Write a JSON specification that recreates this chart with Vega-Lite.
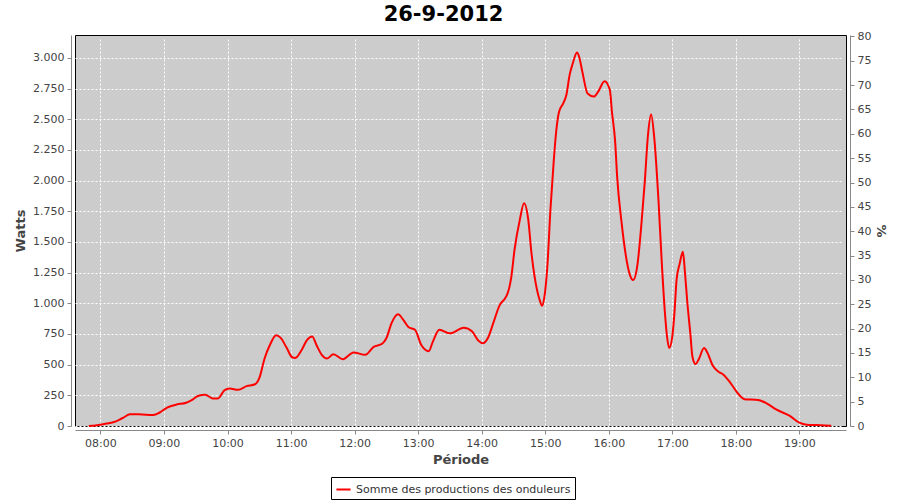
{
  "$schema": "https://vega.github.io/schema/vega-lite/v6.json",
  "autosize": "none",
  "width": 771,
  "height": 391,
  "padding": {"left": 75, "top": 35, "right": 54, "bottom": 74},
  "background": "#ffffff",
  "title": {
    "text": "26-9-2012",
    "font": "DejaVu Sans",
    "fontSize": 21,
    "fontWeight": "bold",
    "color": "#000000",
    "anchor": "middle",
    "dx": -17,
    "offset": 5
  },
  "config": {
    "view": {"fill": "#cccccc", "stroke": "#000000", "strokeWidth": 1},
    "axis": {
      "labelFont": "DejaVu Sans",
      "labelFontSize": 11,
      "labelColor": "#444444",
      "titleFont": "DejaVu Sans",
      "titleFontSize": 13,
      "titleFontWeight": "bold",
      "titleColor": "#444444",
      "domainColor": "#888888",
      "tickColor": "#888888",
      "tickSize": 4,
      "offset": 4,
      "gridColor": "#ffffff",
      "gridDash": [2, 2],
      "gridOpacity": 1,
      "gridWidth": 1
    }
  },
  "layer": [
    {
      "data": {
        "values": [
          {"t": "2012-09-26T07:49", "w": 0},
          {"t": "2012-09-26T08:00", "w": 11},
          {"t": "2012-09-26T08:06", "w": 20},
          {"t": "2012-09-26T08:12", "w": 30},
          {"t": "2012-09-26T08:21", "w": 65},
          {"t": "2012-09-26T08:28", "w": 95},
          {"t": "2012-09-26T08:36", "w": 95},
          {"t": "2012-09-26T08:50", "w": 90},
          {"t": "2012-09-26T08:56", "w": 110},
          {"t": "2012-09-26T09:03", "w": 150},
          {"t": "2012-09-26T09:12", "w": 175},
          {"t": "2012-09-26T09:21", "w": 190},
          {"t": "2012-09-26T09:27", "w": 215},
          {"t": "2012-09-26T09:32", "w": 245},
          {"t": "2012-09-26T09:39", "w": 255},
          {"t": "2012-09-26T09:46", "w": 225},
          {"t": "2012-09-26T09:51", "w": 225},
          {"t": "2012-09-26T09:57", "w": 290},
          {"t": "2012-09-26T10:02", "w": 305},
          {"t": "2012-09-26T10:10", "w": 295},
          {"t": "2012-09-26T10:18", "w": 325},
          {"t": "2012-09-26T10:26", "w": 340},
          {"t": "2012-09-26T10:30", "w": 390},
          {"t": "2012-09-26T10:35", "w": 550},
          {"t": "2012-09-26T10:40", "w": 660},
          {"t": "2012-09-26T10:46", "w": 740},
          {"t": "2012-09-26T10:50", "w": 720},
          {"t": "2012-09-26T10:56", "w": 635},
          {"t": "2012-09-26T11:01", "w": 560},
          {"t": "2012-09-26T11:04", "w": 555},
          {"t": "2012-09-26T11:10", "w": 620},
          {"t": "2012-09-26T11:15", "w": 700},
          {"t": "2012-09-26T11:20", "w": 730},
          {"t": "2012-09-26T11:24", "w": 660},
          {"t": "2012-09-26T11:29", "w": 580},
          {"t": "2012-09-26T11:34", "w": 550},
          {"t": "2012-09-26T11:40", "w": 585},
          {"t": "2012-09-26T11:49", "w": 545},
          {"t": "2012-09-26T11:59", "w": 600},
          {"t": "2012-09-26T12:10", "w": 580},
          {"t": "2012-09-26T12:18", "w": 645},
          {"t": "2012-09-26T12:26", "w": 670},
          {"t": "2012-09-26T12:30", "w": 715},
          {"t": "2012-09-26T12:35", "w": 840},
          {"t": "2012-09-26T12:41", "w": 910},
          {"t": "2012-09-26T12:46", "w": 865},
          {"t": "2012-09-26T12:51", "w": 805},
          {"t": "2012-09-26T12:57", "w": 785},
          {"t": "2012-09-26T13:03", "w": 660},
          {"t": "2012-09-26T13:10", "w": 610},
          {"t": "2012-09-26T13:14", "w": 690},
          {"t": "2012-09-26T13:20", "w": 785},
          {"t": "2012-09-26T13:30", "w": 755},
          {"t": "2012-09-26T13:43", "w": 800},
          {"t": "2012-09-26T13:51", "w": 770},
          {"t": "2012-09-26T13:57", "w": 695},
          {"t": "2012-09-26T14:01", "w": 675},
          {"t": "2012-09-26T14:06", "w": 720},
          {"t": "2012-09-26T14:11", "w": 840},
          {"t": "2012-09-26T14:17", "w": 985},
          {"t": "2012-09-26T14:22", "w": 1040},
          {"t": "2012-09-26T14:24", "w": 1070},
          {"t": "2012-09-26T14:28", "w": 1215},
          {"t": "2012-09-26T14:31", "w": 1435},
          {"t": "2012-09-26T14:36", "w": 1680},
          {"t": "2012-09-26T14:40", "w": 1815},
          {"t": "2012-09-26T14:44", "w": 1680},
          {"t": "2012-09-26T14:47", "w": 1410},
          {"t": "2012-09-26T14:50", "w": 1215},
          {"t": "2012-09-26T14:55", "w": 1020},
          {"t": "2012-09-26T14:57", "w": 980},
          {"t": "2012-09-26T14:59", "w": 1040},
          {"t": "2012-09-26T15:02", "w": 1300},
          {"t": "2012-09-26T15:05", "w": 1775},
          {"t": "2012-09-26T15:08", "w": 2155},
          {"t": "2012-09-26T15:10", "w": 2370},
          {"t": "2012-09-26T15:13", "w": 2560},
          {"t": "2012-09-26T15:17", "w": 2630},
          {"t": "2012-09-26T15:20", "w": 2700},
          {"t": "2012-09-26T15:23", "w": 2860},
          {"t": "2012-09-26T15:26", "w": 2955},
          {"t": "2012-09-26T15:30", "w": 3045},
          {"t": "2012-09-26T15:32", "w": 3010},
          {"t": "2012-09-26T15:35", "w": 2890},
          {"t": "2012-09-26T15:40", "w": 2710},
          {"t": "2012-09-26T15:46", "w": 2685},
          {"t": "2012-09-26T15:50", "w": 2725},
          {"t": "2012-09-26T15:56", "w": 2810},
          {"t": "2012-09-26T16:01", "w": 2740},
          {"t": "2012-09-26T16:03", "w": 2560},
          {"t": "2012-09-26T16:06", "w": 2320},
          {"t": "2012-09-26T16:08", "w": 2020},
          {"t": "2012-09-26T16:12", "w": 1665},
          {"t": "2012-09-26T16:16", "w": 1395},
          {"t": "2012-09-26T16:20", "w": 1230},
          {"t": "2012-09-26T16:23", "w": 1190},
          {"t": "2012-09-26T16:27", "w": 1310},
          {"t": "2012-09-26T16:31", "w": 1665},
          {"t": "2012-09-26T16:34", "w": 1990},
          {"t": "2012-09-26T16:37", "w": 2370},
          {"t": "2012-09-26T16:40", "w": 2540},
          {"t": "2012-09-26T16:43", "w": 2345},
          {"t": "2012-09-26T16:47", "w": 1830},
          {"t": "2012-09-26T16:50", "w": 1340},
          {"t": "2012-09-26T16:53", "w": 925},
          {"t": "2012-09-26T16:55", "w": 730},
          {"t": "2012-09-26T16:57", "w": 635},
          {"t": "2012-09-26T17:00", "w": 730},
          {"t": "2012-09-26T17:02", "w": 920},
          {"t": "2012-09-26T17:04", "w": 1190},
          {"t": "2012-09-26T17:07", "w": 1325},
          {"t": "2012-09-26T17:10", "w": 1420},
          {"t": "2012-09-26T17:12", "w": 1245},
          {"t": "2012-09-26T17:14", "w": 1025},
          {"t": "2012-09-26T17:17", "w": 755},
          {"t": "2012-09-26T17:19", "w": 565},
          {"t": "2012-09-26T17:22", "w": 505},
          {"t": "2012-09-26T17:25", "w": 545},
          {"t": "2012-09-26T17:30", "w": 635},
          {"t": "2012-09-26T17:33", "w": 600},
          {"t": "2012-09-26T17:38", "w": 495},
          {"t": "2012-09-26T17:44", "w": 440},
          {"t": "2012-09-26T17:48", "w": 420},
          {"t": "2012-09-26T17:55", "w": 350},
          {"t": "2012-09-26T18:02", "w": 265},
          {"t": "2012-09-26T18:08", "w": 218},
          {"t": "2012-09-26T18:21", "w": 212},
          {"t": "2012-09-26T18:29", "w": 185},
          {"t": "2012-09-26T18:38", "w": 135},
          {"t": "2012-09-26T18:51", "w": 82},
          {"t": "2012-09-26T19:00", "w": 27},
          {"t": "2012-09-26T19:07", "w": 11},
          {"t": "2012-09-26T19:16", "w": 8},
          {"t": "2012-09-26T19:30", "w": 3}
        ]
      },
      "mark": {"type": "line", "interpolate": "monotone", "strokeWidth": 2, "color": "#ff0000"},
      "encoding": {
        "x": {
          "field": "t",
          "type": "temporal",
          "title": "Période",
          "scale": {
            "domain": ["2012-09-26T07:36", "2012-09-26T19:44"],
            "nice": false
          },
          "axis": {
            "format": "%H:%M",
            "tickCount": 12,
            "labelPadding": 3,
            "titlePadding": 5,
            "grid": true
          }
        },
        "y": {
          "field": "w",
          "type": "quantitative",
          "title": "Watts",
          "scale": {"domain": [0, 3187], "nice": false},
          "axis": {
            "values": [0, 250, 500, 750, 1000, 1250, 1500, 1750, 2000, 2250, 2500, 2750, 3000],
            "labelExpr": "replace(format(datum.value, ',d'), ',', '.')",
            "labelPadding": 3,
            "titlePadding": 5,
            "grid": true
          }
        },
        "color": {
          "datum": "Somme des productions des onduleurs",
          "type": "nominal",
          "scale": {"range": ["#ff0000"]},
          "legend": {
            "title": null,
            "orient": "none",
            "legendX": 256,
            "legendY": 442,
            "symbolType": "stroke",
            "symbolStrokeWidth": 2,
            "symbolSize": 200,
            "labelFont": "DejaVu Sans",
            "labelFontSize": 11,
            "labelColor": "#333333",
            "labelOffset": 4,
            "labelLimit": 400,
            "strokeColor": "#000000",
            "fillColor": "#ffffff",
            "padding": 4,
            "cornerRadius": 0
          }
        }
      }
    },
    {
      "data": {"values": [{"pct": 0}, {"pct": 80}]},
      "mark": {"type": "point", "opacity": 0},
      "encoding": {
        "y": {
          "field": "pct",
          "type": "quantitative",
          "title": "%",
          "scale": {"domain": [0, 80.3], "nice": false},
          "axis": {
            "orient": "right",
            "values": [0, 5, 10, 15, 20, 25, 30, 35, 40, 45, 50, 55, 60, 65, 70, 75, 80],
            "grid": false,
            "labelPadding": 3,
            "titlePadding": 3
          }
        }
      }
    }
  ],
  "resolve": {"scale": {"y": "independent"}, "axis": {"y": "independent"}}
}
